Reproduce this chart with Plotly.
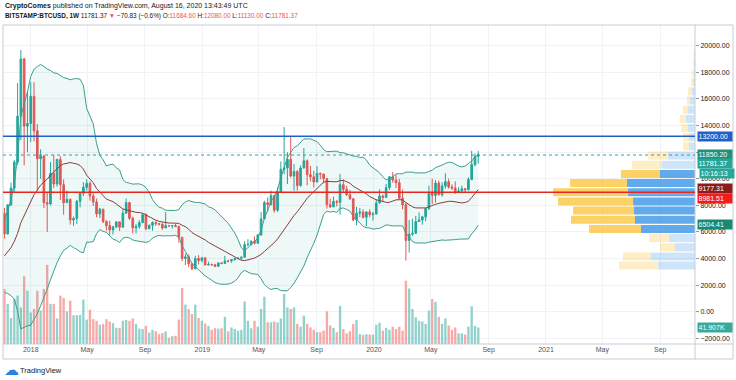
import numpy as np
import pandas as pd
import plotly.graph_objects as go

# ---------------- data ----------------
# weekly closes before the visible window (only used to warm up the Bollinger Bands)
pre_close = [2560, 2500, 2500, 1920, 2750, 2750, 3230, 4060, 4100, 4350,
             4580, 4230, 3700, 3620, 4390, 4600, 5690, 6000, 5730, 7390]

first_week = "2017-11-06"

opens = [7390, 5850, 8040, 9300, 11250, 14700, 19000, 13950,
         14150, 16200, 13600, 11500, 11700, 8200, 8100, 10400, 9600, 11450, 9550, 8200,
         8450, 6900, 7000, 8300, 8900, 9350, 9650, 8700, 8250, 7350, 7700, 6780,
         6470, 6150, 6380, 6750, 6350, 7400, 8200, 7030, 6300, 6400, 6700, 7290,
         6240, 6500, 6700, 6620, 6580, 6300, 6470, 6450, 6480, 6400, 5600, 4000,
         4130, 3600, 3230, 4000, 3850, 4050, 3510, 3540, 3530, 3420, 3670, 3630,
         3820, 3810, 3920, 4000, 4020, 4100, 5050, 5070, 5300, 5150, 5780, 6980,
         8200, 8050, 8730, 7630, 8990, 10700, 10800, 11450, 10200, 10530, 9480, 10800,
         11350, 10300, 10140, 9750, 10400, 10350, 10000, 8050, 7880, 8290, 8230, 9550,
         9200, 8800, 8500, 6900, 7400, 7500, 7100, 7500, 7300, 7350, 8180, 8700,
         8600, 9330, 10150, 9900, 9700, 8530, 8040, 5360, 5830, 5900, 6780, 6900,
         7130, 7760, 8900, 8750, 9670, 8790, 9450, 9780, 9370, 9300, 9010, 9070,
         9250, 9170, 9940, 11060, 11684.60]

highs = [7800, 8050, 9700, 11400, 17200, 19666, 19100, 16500,
         17250, 17250, 14100, 12200, 11800, 9000, 11250, 11800, 11500, 11700, 9950, 9100,
         8500, 7150, 8400, 9000, 9750, 9950, 9800, 8900, 8500, 7800, 7750, 6880,
         6840, 6450, 6800, 6800, 7700, 8500, 8280, 7150, 6600, 6880, 7400, 7400,
         6550, 6800, 6800, 6680, 6700, 7500, 6520, 6500, 6600, 6480, 5620, 4370,
         4300, 3620, 4200, 4250, 4100, 4100, 3750, 3620, 3560, 3680, 3700, 4200,
         3900, 3950, 4000, 4100, 4140, 5300, 5450, 5370, 5650, 5800, 7500, 8350,
         8600, 9100, 8800, 9350, 11300, 13880, 12000, 13180, 11100, 10650, 11000, 12300,
         11450, 10960, 10600, 10950, 10450, 10350, 10050, 8500, 8650, 8400, 10350, 9950,
         9480, 9150, 8500, 7870, 7800, 7700, 7550, 7700, 7500, 8450, 9200, 8800,
         9600, 10150, 10500, 10300, 9980, 9200, 8180, 6900, 6980, 7200, 7470, 7200,
         7760, 9480, 10000, 9900, 9850, 9740, 10400, 10000, 9580, 9800, 9350, 9480,
         9270, 10100, 12100, 11900, 12080]

lows = [5500, 5800, 7950, 9000, 11050, 12900, 11000, 12000,
        12750, 12800, 9100, 10000, 7800, 6000, 8000, 9300, 9400, 8400, 7300, 8200,
        6550, 6450, 6600, 7850, 8700, 9100, 8350, 7950, 7100, 7050, 6650, 6100,
        5780, 5800, 6280, 6070, 6330, 7400, 6900, 5880, 5880, 6250, 6660, 6120,
        6200, 6100, 6450, 6480, 6150, 6280, 6400, 6250, 6360, 5200, 3800, 3500,
        3350, 3122, 3200, 3560, 3700, 3500, 3500, 3450, 3350, 3370, 3570, 3620,
        3700, 3680, 3820, 3950, 3900, 4100, 4900, 4980, 5050, 5150, 5700, 6960,
        7500, 8000, 7450, 7500, 8960, 10350, 9600, 10100, 9100, 9100, 9400, 10800,
        9500, 9800, 9340, 9750, 9950, 9650, 7750, 7800, 7880, 7920, 7300, 8970,
        8700, 8400, 6800, 6500, 7100, 7000, 6430, 7100, 6850, 7300, 8120, 8250,
        8550, 9150, 9700, 9300, 8450, 7700, 3850, 4450, 5700, 5860, 6760, 6550,
        6800, 7650, 8100, 8200, 8750, 8640, 9250, 9250, 9150, 8850, 8920, 9050,
        9000, 9130, 9880, 10930, 11130]

closes = [5850, 8040, 9300, 11250, 14700, 19000, 13950, 14150,
          16200, 13600, 11500, 11700, 8200, 8100, 10400, 9600, 11450, 9550, 8200, 8450,
          6900, 7000, 8300, 8900, 9350, 9650, 8700, 8250, 7350, 7700, 6780, 6470,
          6150, 6380, 6750, 6350, 7400, 8200, 7030, 6300, 6400, 6700, 7290, 6240,
          6500, 6700, 6620, 6580, 6300, 6470, 6450, 6480, 6400, 5600, 4000, 4130,
          3600, 3230, 4000, 3850, 4050, 3510, 3540, 3530, 3420, 3670, 3630, 3820,
          3810, 3920, 4000, 4020, 4100, 5050, 5070, 5300, 5150, 5780, 6980, 8200,
          8050, 8730, 7630, 8990, 10700, 10800, 11450, 10200, 10530, 9480, 10800, 11350,
          10300, 10140, 9750, 10400, 10350, 10000, 8050, 7880, 8290, 8230, 9550, 9200,
          8800, 8500, 6900, 7400, 7500, 7100, 7500, 7300, 7350, 8180, 8700, 8600,
          9330, 10150, 9900, 9700, 8530, 8040, 5360, 5830, 5900, 6780, 6900, 7130,
          7760, 8900, 8750, 9670, 8790, 9450, 9780, 9370, 9300, 9010, 9070, 9250,
          9170, 9940, 11060, 11684.60, 11781.37]

volume_k = [140, 102, 66, 114, 123, 93, 172, 135,
            80, 89, 135, 85, 140, 201, 102, 102, 65, 123, 117, 83,
            110, 73, 73, 74, 113, 62, 87, 63, 59, 49, 51, 63,
            57, 53, 41, 41, 59, 61, 59, 65, 51, 39, 38, 46,
            29, 36, 32, 25, 28, 32, 16, 20, 21, 62, 142, 100,
            89, 76, 100, 66, 59, 52, 46, 36, 40, 39, 40, 69,
            32, 42, 38, 34, 36, 108, 59, 40, 59, 44, 89, 120,
            55, 55, 57, 55, 65, 127, 93, 89, 93, 51, 44, 72,
            51, 42, 36, 30, 30, 34, 83, 47, 41, 30, 97, 38,
            27, 32, 51, 61, 25, 23, 25, 24, 24, 49, 54, 34,
            41, 36, 44, 38, 44, 34, 161, 141, 89, 68, 59, 57,
            51, 85, 114, 107, 69, 51, 65, 47, 36, 42, 27, 27,
            24, 44, 96, 46, 41.907]

# visible-range volume profile (24 rows, low -> high), thousand BTC
profile_low, profile_high = 3122, 19666
profile_up = [266, 317, 144, 187, 389, 432, 439, 446, 482, 490, 252, 238,
              194, 43, 43, 50, 65, 50, 36, 22, 14, 7, 7, 4]
profile_down = [281, 202, 108, 144, 374, 461, 439, 540, 540, 410, 281, 216,
                144, 43, 43, 50, 43, 36, 22, 29, 14, 14, 7, 7]
value_area = [False, False, False, False, True, True, True, True, True, True, True, False,
              False, False, False, False, False, False, False, False, False, False, False, False]

resistance_level = 13200.00
support_level = 8981.51

month_ticks = ["2018-01-01", "2018-05-01", "2018-09-01", "2019-01-01", "2019-05-01", "2019-09-01",
               "2020-01-01", "2020-05-01", "2020-09-01", "2021-01-01", "2021-05-01", "2021-09-01"]
month_text = ["2018", "May", "Sep", "2019", "May", "Sep", "2020", "May", "Sep", "2021", "May", "Sep"]

# ---------------- derived ----------------
weeks = pd.date_range(first_week, periods=len(closes), freq="7D")
allc = pd.Series(pre_close + closes, dtype=float)
mid = allc.rolling(20).mean()
sd = allc.rolling(20).std(ddof=0)
n0 = len(pre_close)
bb_mid = mid.iloc[n0:].values
bb_up = (mid + 2 * sd).iloc[n0:].values
bb_lo = (mid - 2 * sd).iloc[n0:].values

UP, DN = "#26a69a", "#ef5350"
vol_colors = ["rgba(38,166,154,0.5)" if c >= o else "rgba(239,83,80,0.5)" for o, c in zip(opens, closes)]

nrows = len(profile_up)
row_h = (profile_high - profile_low) / nrows
row_mid = [profile_low + (k + 0.5) * row_h for k in range(nrows)]
col_up = ["rgba(30,136,229,0.7)" if v else "rgba(30,136,229,0.22)" for v in value_area]
col_dn = ["rgba(251,192,45,0.72)" if v else "rgba(251,192,45,0.28)" for v in value_area]

fig = go.Figure()
fig.add_trace(go.Bar(x=weeks, y=volume_k, marker=dict(color=vol_colors, line=dict(width=0)),
                     width=5 * 86400000, xaxis="x", yaxis="y"))
fig.add_trace(go.Scatter(x=weeks, y=bb_up, mode="lines", line=dict(color="#3a9e8c", width=1),
                         xaxis="x", yaxis="y2"))
fig.add_trace(go.Scatter(x=weeks, y=bb_lo, mode="lines", line=dict(color="#3a9e8c", width=1),
                         fill="tonexty", fillcolor="rgba(0,150,136,0.07)", xaxis="x", yaxis="y2"))
fig.add_trace(go.Scatter(x=weeks, y=bb_mid, mode="lines", line=dict(color="#8e3a3a", width=1),
                         xaxis="x", yaxis="y2"))
fig.add_trace(go.Candlestick(x=weeks, open=opens, high=highs, low=lows, close=closes,
                             increasing=dict(line=dict(color=UP, width=1), fillcolor=UP),
                             decreasing=dict(line=dict(color=DN, width=1), fillcolor=DN),
                             whiskerwidth=0, xaxis="x", yaxis="y2"))
fig.add_trace(go.Bar(y=row_mid, x=profile_up, orientation="h", base=0, width=row_h * 0.88,
                     marker=dict(color=col_up, line=dict(width=0)), xaxis="x2", yaxis="y2"))
fig.add_trace(go.Bar(y=row_mid, x=profile_down, orientation="h", base=profile_up, width=row_h * 0.88,
                     marker=dict(color=col_dn, line=dict(width=0)), xaxis="x2", yaxis="y2"))

GRID = "#f0f2f7"
FONT = "Liberation Sans"
L, R, T, B = 3, 41, 25, 36
PW, PH = 736 - L - R, 380 - T - B


def px(x):
    return (x - L) / PW


def py(y):
    return (T + PH - y) / PH


fig.update_layout(
    width=736, height=380,
    margin=dict(l=L, r=R, t=T, b=B),
    paper_bgcolor="white", plot_bgcolor="white",
    showlegend=False, hovermode=False, barmode="overlay",
    font=dict(family=FONT, size=7, color="#131722"),
    xaxis=dict(type="date", range=["2017-11-03", "2021-11-14"], tickvals=month_ticks, ticktext=month_text,
               showgrid=True, gridcolor=GRID, gridwidth=1, zeroline=False, showline=False, ticks="",
               tickfont=dict(size=7, color="#50535e"), rangeslider=dict(visible=False), fixedrange=True),
    xaxis2=dict(overlaying="x", range=[PW * 7.2, 0], visible=False, fixedrange=True),
    yaxis=dict(range=[0, PH * 2.54], visible=False, fixedrange=True),
    yaxis2=dict(overlaying="y", side="right", range=[-2429, 21557], tick0=0, dtick=2000,
                tickformat=".2f", showgrid=True, gridcolor=GRID, zeroline=False, showline=False,
                ticks="outside", ticklen=3, tickcolor="#9598a1",
                tickfont=dict(size=7, color="#131722"), fixedrange=True),
)

shapes = [
    dict(type="rect", xref="paper", yref="paper", x0=0, x1=px(733), y0=py(359), y1=1,
         line=dict(color="#c9ccd3", width=1), layer="above"),
    dict(type="line", xref="paper", yref="paper", x0=1, x1=1, y0=py(359), y1=1,
         line=dict(color="#c9ccd3", width=1), layer="above"),
    dict(type="line", xref="paper", yref="paper", x0=0, x1=px(733), y0=0, y1=0,
         line=dict(color="#c9ccd3", width=1), layer="above"),
    dict(type="line", xref="paper", yref="y2", x0=0, x1=1, y0=closes[-1], y1=closes[-1],
         line=dict(color=UP, width=1, dash="dot"), layer="above"),
    dict(type="line", xref="paper", yref="y2", x0=0, x1=1, y0=resistance_level, y1=resistance_level,
         line=dict(color="#2260c8", width=1.5), layer="above"),
    dict(type="line", xref="paper", yref="y2", x0=0, x1=1, y0=support_level, y1=support_level,
         line=dict(color="#e8261f", width=1.5), layer="above"),
]
fig.update_layout(shapes=shapes)

RED = "#ef5350"
anns = [
    dict(x=px(3), y=py(6), xref="paper", yref="paper", xanchor="left", yanchor="middle", showarrow=False,
         text="<b>CryptoComes</b> published on TradingView.com, August 16, 2020 13:43:49 UTC",
         font=dict(size=7, color="#131722")),
    dict(x=px(3), y=py(16.5), xref="paper", yref="paper", xanchor="left", yanchor="middle", showarrow=False,
         text=("<b>BITSTAMP:BTCUSD, 1W</b> 11781.37 <span style='color:%s'>▼</span> −70.83 (−0.6%%) "
               "O:<span style='color:%s'>11684.60</span> H:<span style='color:%s'>12080.00</span> "
               "L:<span style='color:%s'>11130.00</span> C:<span style='color:%s'>11781.37</span>")
              % (RED, RED, RED, RED, RED),
         font=dict(size=6.4, color="#131722")),
    dict(x=px(2), y=py(370), xref="paper", yref="paper", xanchor="left", yanchor="middle", showarrow=False,
         text="☁", font=dict(size=15, color="#2f7fe0", family="DejaVu Sans")),
    dict(x=px(18), y=py(370), xref="paper", yref="paper", xanchor="left", yanchor="middle", showarrow=False,
         text="TradingView", font=dict(size=7.5, color="#131722")),
]

labels = [
    ("13200.00", 13200.0, "y2", "#2260c8", 697),
    ("11850.20", 11850.2, "y2", "#1f8f7e", 697),
    ("11781.37", 11143, "y2", "#26a69a", 697),
    ("10:16:13", 10391, "y2", "#2aa597", 699),
    ("9177.31", 9263, "y2", "#8b1c1c", 697),
    ("8981.51", 8512, "y2", "#f21c1c", 697),
    ("6504.41", 6557, "y2", "#178a74", 697),
    ("41.907K", 41.907, "y", "#3aa99a", 697),
]
for txt, yy, yr, bg, xx in labels:
    anns.append(dict(x=px(xx), y=yy, xref="paper", yref=yr, xanchor="left", yanchor="middle",
                     showarrow=False, text=txt, bgcolor=bg, width=33, height=8, align="left",
                     borderpad=0.5, font=dict(size=7, color="white")))
fig.update_layout(annotations=anns)

fig.write_html("out.html", config={"displayModeBar": False},
               post_script="document.body.style.margin='0px';")
